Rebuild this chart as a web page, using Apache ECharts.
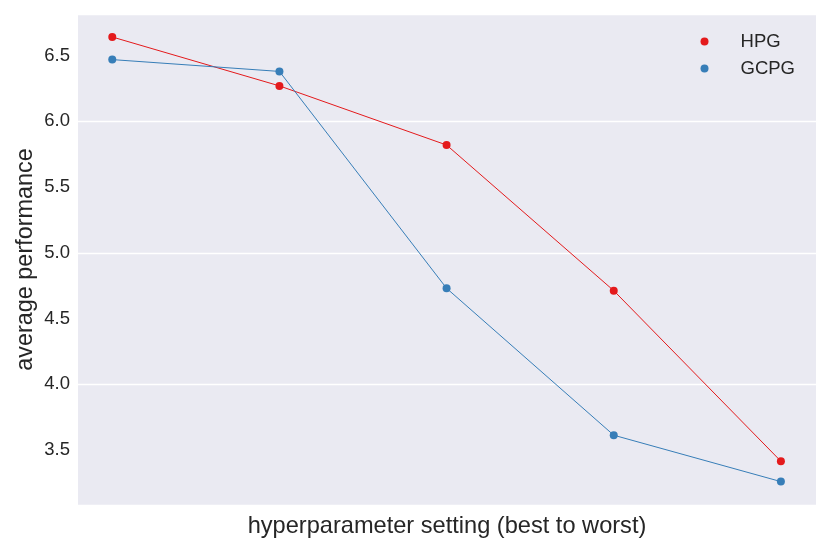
<!DOCTYPE html>
<html>
<head>
<meta charset="utf-8">
<script src="https://cdn.jsdelivr.net/npm/echarts@6/dist/echarts.min.js"></script>
<style>html,body{margin:0;padding:0;background:#fff}#c{width:830px;height:549px}</style>
</head>
<body>
<div id="c"></div>
<script>
const positions = [0, 1, 2, 3, 4];
const hpg = [6.642, 6.27, 5.82, 4.712, 3.414];
const gcpg = [6.47, 6.38, 4.73, 3.612, 3.259];
const yTicks = [3.5, 4.0, 4.5, 5.0, 5.5, 6.0, 6.5];

const chart = echarts.init(document.getElementById('c'), null, {renderer: 'canvas'});
const font = 'Liberation Sans, Arial, sans-serif';
const txt = '#262626';
chart.setOption({
  animation: false,
  backgroundColor: '#fff',
  grid: {left: 78, right: 14, top: 14, bottom: 44, show: true, backgroundColor: '#EAEAF2', borderWidth: 0},
  legend: {
    orient: 'vertical', right: 30, top: 27, itemGap: 8,
    icon: 'circle', itemWidth: 8, itemHeight: 8,
    textStyle: {fontFamily: font, fontSize: 18.5, color: txt, padding: [0, 0, 0, 27]},
    data: ['HPG', 'GCPG']
  },
  xAxis: {
    type: 'value', min: -0.205, max: 4.21,
    axisLine: {show: false}, axisTick: {show: false}, axisLabel: {show: false}, splitLine: {show: false},
    name: 'hyperparameter setting (best to worst)', nameLocation: 'middle', nameGap: 9,
    nameMoveOverlap: false,
    nameTextStyle: {fontFamily: font, fontSize: 23.6, color: txt}
  },
  yAxis: {
    type: 'value', min: 3.081, max: 6.817,
    axisLine: {show: false}, axisTick: {show: false},
    customValues: yTicks,
    axisLabel: {customValues: yTicks, fontFamily: font, fontSize: 18.5, color: txt, margin: 8, formatter: v => v.toFixed(1)},
    splitLine: {show: true, lineStyle: {color: '#fff', width: 1.3}},
    name: 'average performance', nameLocation: 'middle', nameGap: 41,
    nameMoveOverlap: false,
    nameTextStyle: {fontFamily: font, fontSize: 23.4, color: txt}
  },
  series: [
    {name: 'HPG', type: 'line', data: positions.map((x, i) => [x, hpg[i]]), symbol: 'circle', symbolSize: 8,
     itemStyle: {color: '#e41a1c'}, lineStyle: {width: 1, color: '#e41a1c'}},
    {name: 'GCPG', type: 'line', data: positions.map((x, i) => [x, gcpg[i]]), symbol: 'circle', symbolSize: 8,
     itemStyle: {color: '#377eb8'}, lineStyle: {width: 1, color: '#377eb8'}}
  ]
});
</script>
</body>
</html>
